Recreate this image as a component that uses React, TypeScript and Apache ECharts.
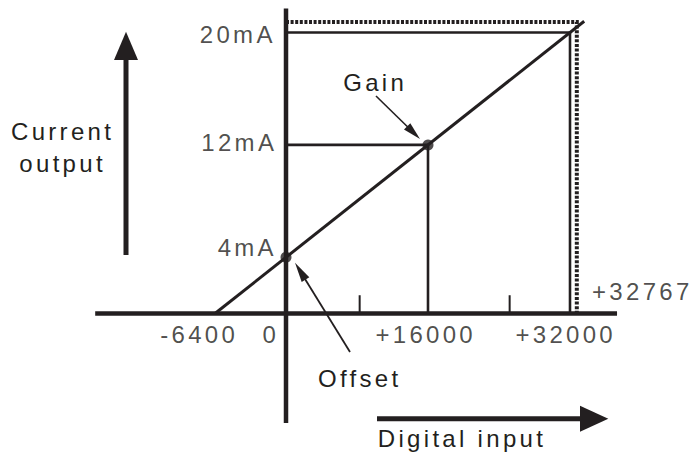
import React, { useEffect, useRef } from "react";
import * as echarts from "echarts";

// ---- data ----
const yTickValues = [4, 12, 20];
const yTickLabels = ["4mA", "12mA", "20mA"];
const xTickValues = [-6400, 0, 16000, 32000, 32767];
const xTickLabels = ["-6400", "0", "+16000", "+32000", "+32767"];
const minorTicks = [8300, 25200];
const offsetPoint = [0, 4];
const gainPoint = [16000, 12];
const fullPoint = [32000, 20];
const maxInput = 32767;
const dottedTop = 20.75;
const lineStart = [-8000, 0];
const lineEnd = [33600, 20.8];
const xAxisExtent = [-21500, 37300];
const yAxisExtent = [-7.8, 21.7];

const INK = "#231f20";
const FONT = '"Liberation Sans", Arial, sans-serif';

// label placement (styles only)
const yLabelOffsets = [
  [-38.75, -9.8],
  [-46.75, -2.4],
  [-48.25, 2],
];
const xLabelOffsets = [
  [-30, 20.5],
  [-15.25, 20.5],
  [-2.25, 20.5],
  [-4.25, 20.5],
  [65.5, -22],
];

function seg(data: number[][], width: number, dash?: number[], z = 2) {
  return {
    type: "line",
    data,
    symbol: "none",
    silent: true,
    z,
    lineStyle: { color: INK, width, type: dash ?? "solid", cap: "butt", join: "miter" },
  };
}

const textStyle = { fontSize: 24, fontFamily: FONT, fill: INK };

export default function App() {
  const ref = useRef<HTMLDivElement>(null);
  useEffect(() => {
    if (!ref.current) return;
    const chart = echarts.init(ref.current, undefined, { renderer: "svg" });
    const option: any = {
      animation: false,
      backgroundColor: "#ffffff",
      grid: { left: 19.75, width: 665.625, top: 4.4, height: 449.6 },
      xAxis: { type: "value", min: -30000, max: 45000, show: false },
      yAxis: { type: "value", min: -10, max: 22, show: false },
      series: [
        // axes
        seg([[xAxisExtent[0], 0], [xAxisExtent[1], 0]], 4.5, undefined, 5),
        seg([[0, yAxisExtent[1]], [0, yAxisExtent[0]]], 4.5, undefined, 5),
        // dotted full-scale box
        seg([[0, dottedTop], [maxInput, dottedTop], [maxInput, 0]], 4, [3, 1.6]),
        // guide lines
        seg([[0, fullPoint[1]], fullPoint, [fullPoint[0], 0]], 2.6),
        seg([[0, gainPoint[1]], gainPoint, [gainPoint[0], 0]], 2.6),
        // minor ticks
        ...minorTicks.map((t) => seg([[t, 0], [t, 1.3]], 2)),
        // transfer line
        seg([lineStart, lineEnd], 3, undefined, 4),
        // offset & gain points
        {
          type: "scatter",
          data: [offsetPoint, gainPoint],
          symbolSize: 11,
          itemStyle: { color: INK },
          silent: true,
          z: 6,
        },
        // y tick labels
        {
          type: "scatter",
          symbolSize: 1,
          itemStyle: { color: "rgba(0,0,0,0)" },
          silent: true,
          data: yTickValues.map((v, i) => ({
            value: [0, v],
            label: {
              show: true,
              position: "inside",
              offset: yLabelOffsets[i],
              formatter: yTickLabels[i],
              fontSize: 24,
              fontFamily: FONT,
              color: INK,
            },
          })),
        },
        // x tick labels
        {
          type: "scatter",
          symbolSize: 1,
          itemStyle: { color: "rgba(0,0,0,0)" },
          silent: true,
          data: xTickValues.map((v, i) => ({
            value: [v, 0],
            label: {
              show: true,
              position: "inside",
              offset: xLabelOffsets[i],
              formatter: xTickLabels[i],
              fontSize: 24,
              fontFamily: FONT,
              color: INK,
            },
          })),
        },
      ],
      graphic: [
        {
          type: "text",
          x: 62.6,
          y: 115,
          style: { ...textStyle, text: "Current\noutput", align: "center", verticalAlign: "top", lineHeight: 32 },
        },
        {
          type: "text",
          x: 462,
          y: 438.4,
          style: { ...textStyle, text: "Digital input", align: "center", verticalAlign: "middle" },
        },
        {
          type: "text",
          x: 375.2,
          y: 82,
          style: { ...textStyle, text: "Gain", align: "center", verticalAlign: "middle" },
        },
        {
          type: "text",
          x: 359.7,
          y: 378.5,
          style: { ...textStyle, text: "Offset", align: "center", verticalAlign: "middle" },
        },
        // up arrow
        { type: "rect", shape: { x: 123.5, y: 58, width: 5, height: 197 }, style: { fill: INK } },
        { type: "polygon", shape: { points: [[126, 31.7], [114, 60], [138, 60]] }, style: { fill: INK } },
        // right arrow
        { type: "rect", shape: { x: 377, y: 416.3, width: 206, height: 5 }, style: { fill: INK } },
        { type: "polygon", shape: { points: [[608.3, 418.8], [580, 405.8], [580, 431.8]] }, style: { fill: INK } },
        // gain pointer
        { type: "line", shape: { x1: 376, y1: 96, x2: 408, y2: 127.3 }, style: { stroke: INK, lineWidth: 1.6 } },
        { type: "polygon", shape: { points: [[420, 139], [404, 129.6], [410.3, 123.2]] }, style: { fill: INK } },
        // offset pointer
        { type: "line", shape: { x1: 350, y1: 352, x2: 305, y2: 279 }, style: { stroke: INK, lineWidth: 1.8 } },
        { type: "polygon", shape: { points: [[295, 262.7], [309.3, 277.3], [301.7, 282.1]] }, style: { fill: INK } },
      ],
    };
    chart.setOption(option);
    return () => chart.dispose();
  }, []);
  return (
    <>
      <style>{`.chart-root text { letter-spacing: 3.3px; }`}</style>
      <div
        ref={ref}
        className="chart-root"
        style={{ position: "absolute", left: 0, top: 0, width: 697, height: 457 }}
      />
    </>
  );
}
